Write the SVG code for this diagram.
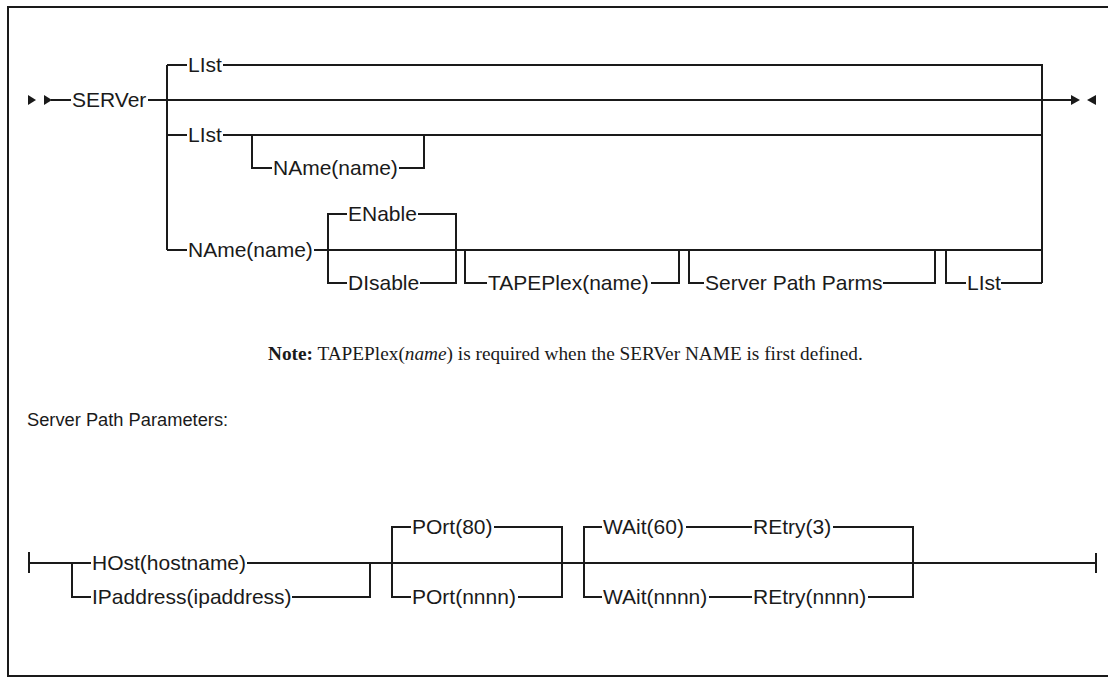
<svg xmlns="http://www.w3.org/2000/svg" width="1108" height="677" viewBox="0 0 1108 677">
<style>
.ln{fill:none;stroke:#1a1a1a;stroke-width:2;stroke-linejoin:miter;stroke-linecap:butt}
.t{font-family:"Liberation Sans",Arial,sans-serif;font-size:21px;fill:#1a1a1a}
.note{font-family:"Liberation Serif","Times New Roman",serif;font-size:19.3px;fill:#1a1a1a}
.hd{font-family:"Liberation Sans",Arial,sans-serif;font-size:18.3px;fill:#1a1a1a}
.ar{fill:#1a1a1a}
</style>
<rect x="0" y="0" width="1108" height="677" fill="#fff"/>
<rect x="8" y="7" width="1110" height="669" fill="none" stroke="#1a1a1a" stroke-width="2"/>

<g id="connectors">
  <path class="ln" d="M51,100 H71 M148,100 H1072"/>
  <path class="ln" d="M167,65 V250"/>
  <path class="ln" d="M167,65 H187 M223,65 H1042 V283"/>
  <path class="ln" d="M167,135 H187 M223,135 H1042"/>
  <path class="ln" d="M252,135 V168 H272 M399,168 H424 V135"/>
  <path class="ln" d="M167,250 H187 M314,250 H1042"/>
  <path class="ln" d="M347,214 H328 V283 H347 M418,214 H456 V283 H420"/>
  <path class="ln" d="M465,250 V283 H487 M651,283 H679 V250"/>
  <path class="ln" d="M689,250 V283 H704 M883,283 H935 V250"/>
  <path class="ln" d="M946,250 V283 H966 M1001,283 H1042"/>

  <path class="ln" d="M29,552 V573 M29,563 H91 M247,563 H1096 M1096,553 V573"/>
  <path class="ln" d="M72,563 V597 H91 M292,597 H370 V563"/>
  <path class="ln" d="M411,527 H392 V597 H411 M494,527 H562 V597 H518"/>
  <path class="ln" d="M602,527 H584 V597 H602 M686,527 H752 M833,527 H913 V597 H868 M709,597 H752"/>
</g>

<g id="terminators">
  <polygon class="ar" points="28,95 36,100 28,105"/>
  <polygon class="ar" points="44,95 52,100 44,105"/>
  <polygon class="ar" points="1071,95 1080,100 1071,105"/>
  <polygon class="ar" points="1096,95 1087,100 1096,105"/>
</g>

<g id="n-server"><text class="t" x="72" y="107">SERVer</text></g>
<g id="n-list1"><text class="t" x="188" y="72">LIst</text></g>
<g id="n-list2"><text class="t" x="188" y="142">LIst</text></g>
<g id="n-name1"><text class="t" x="273" y="175">NAme(name)</text></g>
<g id="n-name2"><text class="t" x="188" y="257">NAme(name)</text></g>
<g id="n-enable"><text class="t" x="348" y="221">ENable</text></g>
<g id="n-disable"><text class="t" x="348" y="290">DIsable</text></g>
<g id="n-tapeplex"><text class="t" x="488" y="290">TAPEPlex(name)</text></g>
<g id="n-spp"><text class="t" x="705" y="290">Server Path Parms</text></g>
<g id="n-list3"><text class="t" x="967" y="290">LIst</text></g>

<g id="note"><text class="note" x="268" y="360"><tspan font-weight="bold">Note:</tspan> TAPEPlex(<tspan font-style="italic">name</tspan>) is required when the SERVer NAME is first defined.</text></g>

<g id="heading"><text class="hd" x="27" y="426">Server Path Parameters:</text></g>

<g id="n-host"><text class="t" x="92" y="570">HOst(hostname)</text></g>
<g id="n-ip"><text class="t" x="92" y="604">IPaddress(ipaddress)</text></g>
<g id="n-port80"><text class="t" x="412" y="534">POrt(80)</text></g>
<g id="n-portn"><text class="t" x="412" y="604">POrt(nnnn)</text></g>
<g id="n-wait60"><text class="t" x="603" y="534">WAit(60)</text></g>
<g id="n-retry3"><text class="t" x="753" y="534">REtry(3)</text></g>
<g id="n-waitn"><text class="t" x="603" y="604">WAit(nnnn)</text></g>
<g id="n-retryn"><text class="t" x="753" y="604">REtry(nnnn)</text></g>
</svg>
